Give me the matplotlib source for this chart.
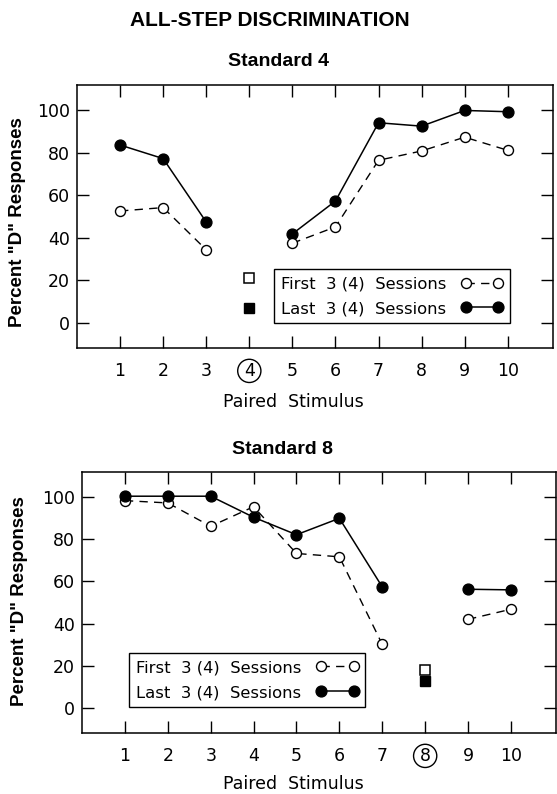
import numpy as np
import matplotlib
matplotlib.use("Agg")
import matplotlib.pyplot as plt

# ---------------- data ----------------
stimulus = [1, 2, 3, 4, 5, 6, 7, 8, 9, 10]
tick_labels = ["1", "2", "3", "4", "5", "6", "7", "8", "9", "10"]
y_ticks = [0, 20, 40, 60, 80, 100]

# Standard 4 (no circle data at the standard itself)
std4_first = [52.6, 54.2, 34.3, np.nan, 37.4, 45.1, 76.5, 80.9, 87.4, 81.2]
std4_last = [83.7, 77.3, 47.4, np.nan, 41.8, 57.3, 94.2, 92.6, 100.0, 99.4]
std4_same_x = 4
std4_same_first = 21
std4_same_last = 7

# Standard 8
std8_first = [98.4, 97.3, 86.2, 95.5, 73.3, 71.7, 30.1, np.nan, 42.0, 46.8]
std8_last = [100.5, 100.5, 100.5, 90.5, 82.2, 90.0, 57.4, np.nan, 56.3, 56.0]
std8_same_x = 8
std8_same_first = 17.8
std8_same_last = 12.8

label_first = "First  3 (4)  Sessions"
label_last = "Last  3 (4)  Sessions"

W, H = 557, 794
fig = plt.figure(figsize=(W / 100, H / 100), dpi=100)

bold_font = ["Liberation Sans", "DejaVu Sans"]
plt.rcParams["font.family"] = ["DejaVu Sans"]


def make_panel(rect, first, last, sx, sf, sl, circled_idx, leg_anchor, open_on_top):
    ax = fig.add_axes(rect)
    zf, zl = (4, 3) if open_on_top else (3, 4)
    ax.plot(stimulus, last, color="black", lw=1.1, marker="o", ms=7.8,
            mfc="black", mec="black", label=label_last, zorder=zl)
    ax.plot(stimulus, first, color="black", lw=1.0, ls=(0, (6, 4.5)), marker="o",
            ms=7.2, mfc="white", mec="black", mew=1.0, label=label_first, zorder=zf)
    ax.plot([sx], [sf], marker="s", ms=6.5, mfc="white", mec="black", mew=1.1,
            ls="none", zorder=5)
    ax.plot([sx], [sl], marker="s", ms=6.5, mfc="black", mec="black", ls="none",
            zorder=5)
    ax.set_xlim(0, 11.05)
    ax.set_ylim(-12, 112)
    ax.set_xticks(stimulus)
    ax.set_xticklabels(tick_labels)
    ax.set_yticks(y_ticks)
    ax.tick_params(direction="in", length=8.5, width=1.0, top=True, right=True,
                   labelsize=12.5)
    ax.tick_params(axis="x", pad=10)
    ax.tick_params(axis="y", pad=5)
    for sp in ax.spines.values():
        sp.set_linewidth(1.1)
    lab = ax.get_xticklabels()[circled_idx]
    lab.set_bbox(dict(boxstyle="circle,pad=0.15", fc="none", ec="black", lw=1.0))

    ax.set_ylabel('Percent "D" Responses', fontsize=13.5, fontweight="bold",
                  family=bold_font, va="center")
    ax.set_xlabel("Paired  Stimulus", fontsize=12.5)

    handles, labels = ax.get_legend_handles_labels()
    leg = ax.legend(handles[::-1], labels[::-1], loc="lower right",
                    bbox_to_anchor=leg_anchor, markerfirst=False, numpoints=2,
                    handlelength=2.6, fontsize=11.8, fancybox=False, framealpha=1,
                    edgecolor="black", borderpad=0.42, labelspacing=0.6,
                    handletextpad=0.9, borderaxespad=0)
    leg.get_frame().set_linewidth(1.0)
    return ax


# pixel boxes -> figure fractions
def rect_from_px(l, t, r, b):
    return [l / W, 1 - b / H, (r - l) / W, (b - t) / H]


ax1 = make_panel(rect_from_px(77, 85, 553, 348), std4_first, std4_last,
                 std4_same_x, std4_same_first, std4_same_last, 3,
                 (0.91, 0.095), True)
ax1.yaxis.set_label_coords(-0.124, 0.48)
ax1.xaxis.set_label_coords(0.455, -0.17)

ax2 = make_panel(rect_from_px(82, 472, 556, 733), std8_first, std8_last,
                 std8_same_x, std8_same_first, std8_same_last, 7,
                 (0.598, 0.10), False)
ax2.yaxis.set_label_coords(-0.131, 0.506)
ax2.xaxis.set_label_coords(0.445, -0.16)

fig.text(270 / W, 1 - 20 / H, "ALL-STEP DISCRIMINATION", ha="center", va="center",
         fontsize=15, fontweight="bold", family=bold_font)
fig.text(278 / W, 1 - 62 / H, "Standard 4", ha="center", va="center",
         fontsize=14, fontweight="bold", family=bold_font)
fig.text(283 / W, 1 - 449 / H, "Standard 8", ha="center", va="center",
         fontsize=14, fontweight="bold", family=bold_font)

fig.savefig("out.png", dpi=100)
